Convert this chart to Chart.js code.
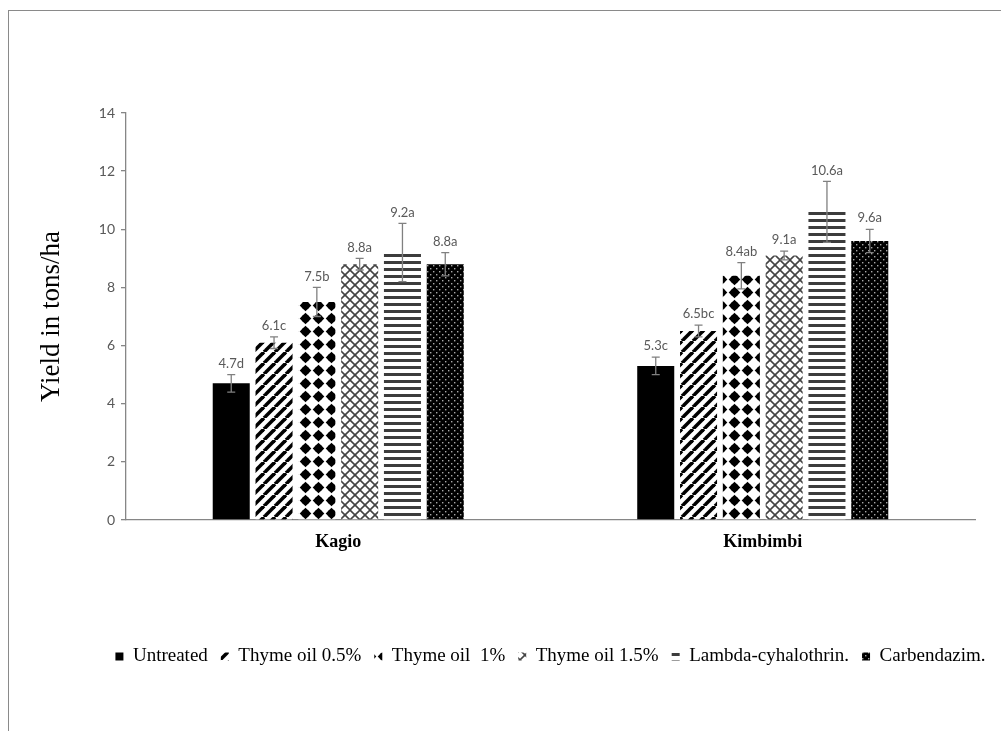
<!DOCTYPE html>
<html>
<head>
<meta charset="utf-8">
<script src="https://cdn.jsdelivr.net/npm/chart.js@4"></script>
<style>
  html, body { margin: 0; padding: 0; background: #fff; overflow: hidden; }
  #frame { position: absolute; left: 8px; top: 10px; width: 1100px; height: 800px; border: 1px solid #8a8a8a; }
  #wrap { position: absolute; left: 0; top: 0; width: 1001px; height: 731px; }
</style>
</head>
<body>
<div id="frame"></div>
<div id="wrap"><canvas id="yieldChart"></canvas></div>
<script>
// Yield per site and treatment (tons/ha)

const sites = ['Kagio', 'Kimbimbi'];
const treatments = ['Untreated', 'Thyme oil 0.5%', 'Thyme oil  1%', 'Thyme oil 1.5%', 'Lambda-cyhalothrin.', 'Carbendazim.'];

// one array per treatment: [Kagio, Kimbimbi]
const untreated = [4.7, 5.3];
const thyme05 = [6.1, 6.5];
const thyme1 = [7.5, 8.4];
const thyme15 = [8.8, 9.1];
const lambda = [9.2, 10.6];
const carbendazim = [8.8, 9.6];

// error bar half lengths
const errUntreated = [0.3, 0.3];
const errThyme05 = [0.2, 0.2];
const errThyme1 = [0.5, 0.45];
const errThyme15 = [0.2, 0.15];
const errLambda = [1.0, 1.05];
const errCarbendazim = [0.4, 0.4];

// value labels with significance letters
const lblUntreated = ['4.7d', '5.3c'];
const lblThyme05 = ['6.1c', '6.5bc'];
const lblThyme1 = ['7.5b', '8.4ab'];
const lblThyme15 = ['8.8a', '9.1a'];
const lblLambda = ['9.2a', '10.6a'];
const lblCarbendazim = ['8.8a', '9.6a'];

const yTicks = [0, 2, 4, 6, 8, 10, 12, 14];

const GRAY_TEXT = '#595959';
const AXIS = '#868686';

// pattern helpers
function makePattern(size, draw) {
    const c = document.createElement('canvas');
    c.width = size;
    c.height = size;
    const g = c.getContext('2d');
    draw(g, size);
    return g.createPattern(c, 'repeat');
}

const pDiagonal = makePattern(11, (g, s) => {
    g.fillStyle = '#fff';
    g.fillRect(0, 0, s, s);
    g.strokeStyle = '#000';
    g.lineWidth = 3.6;
    for (const o of [-s, 0, s]) {
        g.beginPath();
        g.moveTo(o, s);
        g.lineTo(o + s, 0);
        g.stroke();
    }
});

const pDiamond = makePattern(13, (g, s) => {
    g.fillStyle = '#fff';
    g.fillRect(0, 0, s, s);
    g.fillStyle = '#000';
    const c = s / 2, r = 5.8;
    g.beginPath();
    g.moveTo(c, c - r);
    g.lineTo(c + r, c);
    g.lineTo(c, c + r);
    g.lineTo(c - r, c);
    g.closePath();
    g.fill();
    g.beginPath();
    g.arc(c, c, 3.9, 0, Math.PI * 2);
    g.fill();
});

const pCross = makePattern(10, (g, s) => {
    g.fillStyle = '#fff';
    g.fillRect(0, 0, s, s);
    g.strokeStyle = '#444';
    g.lineWidth = 1.6;
    for (const o of [-s, 0, s]) {
        g.beginPath(); g.moveTo(o, s); g.lineTo(o + s, 0); g.stroke();
        g.beginPath(); g.moveTo(o, 0); g.lineTo(o + s, s); g.stroke();
    }
});

const pHorizontal = makePattern(7, (g, s) => {
    g.fillStyle = '#fff';
    g.fillRect(0, 0, s, s);
    g.fillStyle = '#3c3c3c';
    g.fillRect(0, 2, s, 3);
});

const pDots = makePattern(6, (g, s) => {
    g.fillStyle = '#000';
    g.fillRect(0, 0, s, s);
    g.fillStyle = '#a8a8a8';
    g.fillRect(1, 1, 1.4, 1.4);
    g.fillRect(4, 4, 1.4, 1.4);
});

// error bars + value labels
const errorBarPlugin = {
    id: 'errorBars',
    afterDatasetsDraw(chart) {
        const ctx = chart.ctx;
        const y = chart.scales.y;
        ctx.save();
        chart.data.datasets.forEach((ds, di) => {
            const meta = chart.getDatasetMeta(di);
            meta.data.forEach((bar, i) => {
                const v = ds.data[i], e = ds.errors[i];
                const top = y.getPixelForValue(v + e);
                const bot = y.getPixelForValue(v - e);
                ctx.strokeStyle = '#808080';
                ctx.lineWidth = 1.3;
                ctx.beginPath();
                ctx.moveTo(bar.x, top); ctx.lineTo(bar.x, bot);
                ctx.moveTo(bar.x - 4, top); ctx.lineTo(bar.x + 4, top);
                ctx.moveTo(bar.x - 4, bot); ctx.lineTo(bar.x + 4, bot);
                ctx.stroke();
                ctx.fillStyle = GRAY_TEXT;
                ctx.font = '13px Lato';
                ctx.textAlign = 'center';
                ctx.textBaseline = 'middle';
                ctx.fillText(ds.valueLabels[i], bar.x, top - 11);
            });
        });
        ctx.restore();
    }
};

// centre the full-width legend under the plot area instead of the canvas
const legendShift = {
    id: 'legendShift',
    afterLayout(chart) {
        const l = chart.legend, a = chart.chartArea;
        if (!l) return;
        const dx = (a.left + a.right) / 2 - (l.left + l.right) / 2;
        l.left += dx;
        l.right += dx;
    }
};

function bars(label, data, errors, valueLabels, fill) {
    return {
        label: label,
        data: data,
        errors: errors,
        valueLabels: valueLabels,
        backgroundColor: fill,
        borderColor: '#000',
        borderWidth: 0
    };
}

window.charts = {};
window.charts.yield = new Chart(document.getElementById('yieldChart'), {
    type: 'bar',
    data: {
        labels: sites,
        datasets: [
            bars(treatments[0], untreated, errUntreated, lblUntreated, '#000'),
            bars(treatments[1], thyme05, errThyme05, lblThyme05, pDiagonal),
            bars(treatments[2], thyme1, errThyme1, lblThyme1, pDiamond),
            bars(treatments[3], thyme15, errThyme15, lblThyme15, pCross),
            bars(treatments[4], lambda, errLambda, lblLambda, pHorizontal),
            bars(treatments[5], carbendazim, errCarbendazim, lblCarbendazim, pDots)
        ]
    },
    options: {
        responsive: true,
        maintainAspectRatio: false,
        animation: false,
        categoryPercentage: 0.605,
        barPercentage: 0.865,
        layout: { padding: { left: 33, right: 26, top: 113, bottom: 55 } },
        plugins: {
            legend: {
                position: 'bottom',
                labels: {
                    boxWidth: 8,
                    boxHeight: 8,
                    padding: 13,
                    color: '#000',
                    font: { family: 'Liberation Serif', size: 19 }
                }
            },
            tooltip: { enabled: false }
        },
        scales: {
            x: {
                grid: { display: false, drawTicks: false },
                border: { display: true, color: AXIS, width: 1.3 },
                ticks: {
                    color: '#000',
                    padding: 12,
                    font: { family: 'Liberation Serif', size: 18, weight: 'bold' }
                },
                afterFit: scale => { scale.height = 114; }
            },
            y: {
                min: yTicks[0],
                max: yTicks[yTicks.length - 1],
                afterBuildTicks: scale => { scale.ticks = yTicks.map(v => ({ value: v })); },
                grid: { drawOnChartArea: false, tickLength: 5, color: AXIS, lineWidth: 1.3 },
                border: { display: true, color: AXIS, width: 1.3 },
                ticks: {
                    color: GRAY_TEXT,
                    padding: 6,
                    font: { family: 'Lato', size: 14 }
                },
                title: {
                    display: true,
                    text: 'Yield in tons/ha',
                    color: '#000',
                    padding: { top: 3, bottom: 3 },
                    font: { family: 'Liberation Serif', size: 27 }
                },
                afterFit: scale => { scale.width = 93; }
            }
        }
    },
    plugins: [errorBarPlugin, legendShift]
});
</script>
</body>
</html>
